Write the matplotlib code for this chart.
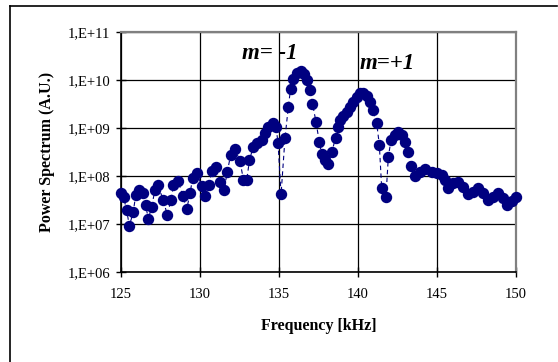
import numpy as np
import matplotlib
matplotlib.use('Agg')
import matplotlib.pyplot as plt
from matplotlib.lines import Line2D
from matplotlib.ticker import FixedLocator, FuncFormatter

plt.rcParams['font.family'] = ['Liberation Serif', 'DejaVu Serif']

# frequency [kHz] and power spectrum (log10 of A.U.)
freq = [125.00, 125.16, 125.35, 125.53, 125.78, 125.93, 126.16, 126.41, 126.56, 126.73,
        126.94, 127.15, 127.34, 127.68, 127.93, 128.16, 128.32, 128.61, 128.92, 129.16,
        129.37, 129.53, 129.81, 130.11, 130.32, 130.57, 130.74, 130.99, 131.27, 131.52,
        131.73, 131.94, 132.22, 132.53, 132.75, 132.96, 133.13, 133.37, 133.59, 133.91,
        134.11, 134.32, 134.59, 134.81, 134.94, 135.13, 135.38, 135.59, 135.73, 135.91,
        136.12, 136.37, 136.60, 136.79, 136.96, 137.12, 137.34, 137.55, 137.70, 137.91,
        138.12, 138.34, 138.58, 138.75, 138.86, 139.07, 139.28, 139.49, 139.70, 139.92,
        140.13, 140.34, 140.55, 140.76, 140.93, 141.18, 141.35, 141.50, 141.77, 141.92,
        142.09, 142.34, 142.55, 142.77, 142.97, 143.18, 143.34, 143.61, 143.92, 144.24,
        144.66, 144.98, 145.30, 145.51, 145.72, 146.03, 146.35, 146.66, 146.98, 147.30,
        147.61, 147.93, 148.25, 148.56, 148.88, 149.16, 149.45, 149.73, 150.00]
log_power = [7.64, 7.56, 7.30, 6.96, 7.26, 7.60, 7.71, 7.65, 7.40, 7.10,
             7.36, 7.71, 7.81, 7.49, 7.19, 7.49, 7.81, 7.90, 7.58, 7.31,
             7.64, 7.95, 8.06, 7.79, 7.58, 7.81, 8.10, 8.19, 7.88, 7.71,
             8.09, 8.44, 8.56, 8.31, 7.92, 7.92, 8.33, 8.61, 8.69, 8.75,
             8.89, 9.03, 9.11, 9.03, 8.68, 7.62, 8.79, 9.44, 9.81, 10.03,
             10.15, 10.19, 10.13, 10.00, 9.79, 9.51, 9.13, 8.71, 8.46, 8.33,
             8.26, 8.49, 8.80, 9.03, 9.17, 9.24, 9.34, 9.44, 9.55, 9.65,
             9.72, 9.72, 9.67, 9.55, 9.38, 9.11, 8.65, 7.74, 7.57, 8.40,
             8.75, 8.85, 8.92, 8.85, 8.71, 8.51, 8.21, 7.99, 8.09, 8.15,
             8.09, 8.06, 8.02, 7.92, 7.76, 7.85, 7.88, 7.78, 7.62, 7.67,
             7.74, 7.64, 7.50, 7.57, 7.65, 7.54, 7.40, 7.47, 7.56]
power = 10 ** np.array(log_power)

xticks = [125, 130, 135, 140, 145, 150]
yticks = [1e6, 1e7, 1e8, 1e9, 1e10, 1e11]

navy = '#000080'

fig = plt.figure(figsize=(5.58, 3.62), dpi=100)
ax = fig.add_axes([121 / 558, 90 / 362, 395 / 558, 240 / 362])

ax.plot(freq, power, color=navy, linestyle=(0, (4, 3)), linewidth=0.8,
        marker='o', markersize=7.2, markerfacecolor=navy, markeredgecolor=navy,
        clip_on=False, zorder=3)

ax.set_yscale('log')
ax.set_xlim(125, 150)
ax.set_ylim(1e6, 1e11)
ax.xaxis.set_major_locator(FixedLocator(xticks))
ax.yaxis.set_major_locator(FixedLocator(yticks))
ax.yaxis.set_minor_locator(FixedLocator([]))
ax.yaxis.set_major_formatter(FuncFormatter(lambda v, p: '1,E+%02d' % round(np.log10(v))))
ax.grid(True, color='black', linewidth=0.9)
ax.set_axisbelow(True)
ax.tick_params(direction='inout', length=7, width=1, labelsize=10.5, colors='black')
ax.tick_params(axis='y', pad=4)
ax.tick_params(axis='x', pad=8)

for s in ['top', 'right']:
    ax.spines[s].set_color('#808080')
    ax.spines[s].set_linewidth(1.6)
for s in ['left', 'bottom']:
    ax.spines[s].set_color('black')
    ax.spines[s].set_linewidth(1.2)

ax.set_xlabel('Frequency [kHz]', fontsize=11.5, fontweight='bold', labelpad=12)
ax.set_ylabel('Power Spectrum (A.U.)', fontsize=11.5, fontweight='bold', labelpad=9)

ax.text(134.45, 10 ** 10.56, 'm= -1', fontsize=16.5, fontweight='bold', style='italic',
        ha='center', va='center')
ax.text(141.85, 10 ** 10.35, 'm=+1', fontsize=16.5, fontweight='bold', style='italic',
        ha='center', va='center')

# outer chart frame
fig.add_artist(Line2D([10 / 558, 557 / 558], [1 - 6 / 362, 1 - 6 / 362], color='black', linewidth=1.2))
fig.add_artist(Line2D([10 / 558, 10 / 558], [0, 1 - 6 / 362], color='black', linewidth=1.2))

fig.savefig('out.png', dpi=100)
